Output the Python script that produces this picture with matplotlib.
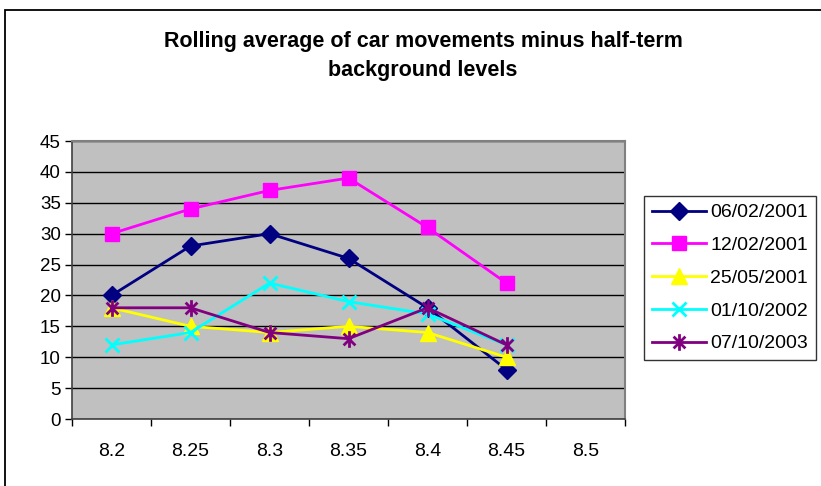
import matplotlib
matplotlib.use("Agg")
import matplotlib.pyplot as plt
from matplotlib.path import Path
from matplotlib.patches import Rectangle
import numpy as np

plt.rcParams['font.family'] = ['Liberation Sans', 'DejaVu Sans']

categories = ["8.2", "8.25", "8.3", "8.35", "8.4", "8.45", "8.5"]
s_0602_2001 = [20, 28, 30, 26, 18, 8]
s_1202_2001 = [30, 34, 37, 39, 31, 22]
s_2505_2001 = [18, 15, 14, 15, 14, 10]
s_0110_2002 = [12, 14, 22, 19, 17, 12]
s_0710_2003 = [18, 18, 14, 13, 18, 12]
labels = ["06/02/2001", "12/02/2001", "25/05/2001", "01/10/2002", "07/10/2003"]
title = "Rolling average of car movements minus half-term\nbackground levels"

W, H = 821, 486
fig = plt.figure(figsize=(W / 100, H / 100), dpi=100)
fig.patch.set_facecolor('white')

# outer chart frame
fig.patches.append(Rectangle((5 / W, -0.2), 1.2, 1.2 - 10 / H, transform=fig.transFigure,
                             fill=False, edgecolor='black', linewidth=1.3))

left, right, top, bottom = 72, 625, 141, 419
ax = fig.add_axes([left / W, 1 - bottom / H, (right - left) / W, (bottom - top) / H])
ax.set_facecolor('#C0C0C0')

# star marker (x plus vertical bar)
r = 1.0
d = r / np.sqrt(2)
star_verts = [(0, -r), (0, r), (-d, -d), (d, d), (-d, d), (d, -d)]
star_codes = [Path.MOVETO, Path.LINETO] * 3
star = Path(star_verts, star_codes)

series = [s_0602_2001, s_1202_2001, s_2505_2001, s_0110_2002, s_0710_2003]
colors = ['#000080', '#FF00FF', '#FFFF00', '#00FFFF', '#800080']
markers = ['D', 's', '^', 'x', star]
msizes = [9, 10, 11, 10, 12]
x = np.arange(len(categories))
handles = []
for vals, c, m, ms, lab in zip(series, colors, markers, msizes, labels):
    xs = x[:len(vals)]
    mew = 2 if m in ('x',) or m is star else 1
    h, = ax.plot(xs, vals, color=c, linewidth=2, marker=m, markersize=ms,
                 markerfacecolor=c, markeredgecolor=c, markeredgewidth=mew,
                 label=lab, zorder=3, clip_on=False)
    handles.append(h)

ax.set_xlim(-0.5, len(categories) - 0.5)
ax.set_ylim(0, 45)
ax.set_yticks(np.arange(0, 46, 5))
ax.set_xticks(x)
ax.set_xticklabels(categories)
ax.set_xticks(np.arange(-0.5, len(categories), 1), minor=True)
ax.tick_params(axis='x', which='major', length=0, pad=17, labelsize=14)
ax.tick_params(axis='x', which='minor', length=5, width=1, direction='out', color='black')
ax.tick_params(axis='y', which='major', length=5, width=1, direction='out', pad=3, labelsize=13.5)
ax.yaxis.grid(True, color='black', linewidth=1)
ax.set_axisbelow(True)
for s in ['top', 'right']:
    ax.spines[s].set_color('#808080')
    ax.spines[s].set_linewidth(1.5)
for s in ['left', 'bottom']:
    ax.spines[s].set_color('#404040')
    ax.spines[s].set_linewidth(1.2)

fig.text(423 / W, 1 - 56 / H, title, ha='center', va='center', fontsize=15.5,
         fontweight='bold', linespacing=1.45)

leg = fig.legend(handles=handles, loc='upper left', bbox_to_anchor=(644 / W, 1 - 196 / H),
                 borderaxespad=0, frameon=True, fancybox=False, shadow=False,
                 fontsize=14, handlelength=2.8, handletextpad=0.2, labelspacing=0.78,
                 borderpad=0.4, numpoints=1)
leg.get_frame().set_edgecolor('black')
leg.get_frame().set_linewidth(1)

fig.savefig('out.png', dpi=100, facecolor='white')
